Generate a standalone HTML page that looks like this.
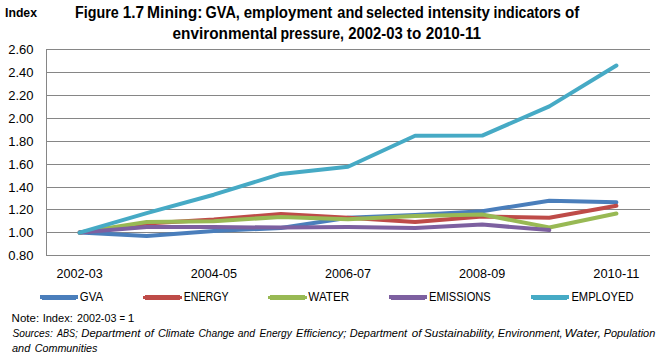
<!DOCTYPE html>
<html><head><meta charset="utf-8"><style>
html,body{margin:0;padding:0;background:#fff;width:666px;height:357px;overflow:hidden}
svg{display:block}
text{font-family:"Liberation Sans",sans-serif;fill:#000}
.ax{font-size:13px}
.idx{font-size:13px;font-weight:bold}
.ttl{font-size:15.6px;font-weight:bold}
.note{font-size:11.5px}
.it{font-style:italic}
</style></head><body>
<svg width="666" height="357" viewBox="0 0 666 357">
<line x1="46.5" y1="255.5" x2="650.0" y2="255.5" stroke="#868686" stroke-width="1"/>
<text x="33.5" y="260.1" class="ax" text-anchor="end">0.80</text>
<line x1="46.5" y1="232.5" x2="650.0" y2="232.5" stroke="#868686" stroke-width="1"/>
<text x="33.5" y="237.1" class="ax" text-anchor="end">1.00</text>
<line x1="46.5" y1="209.5" x2="650.0" y2="209.5" stroke="#868686" stroke-width="1"/>
<text x="33.5" y="214.1" class="ax" text-anchor="end">1.20</text>
<line x1="46.5" y1="187.5" x2="650.0" y2="187.5" stroke="#868686" stroke-width="1"/>
<text x="33.5" y="192.1" class="ax" text-anchor="end">1.40</text>
<line x1="46.5" y1="164.5" x2="650.0" y2="164.5" stroke="#868686" stroke-width="1"/>
<text x="33.5" y="169.1" class="ax" text-anchor="end">1.60</text>
<line x1="46.5" y1="141.5" x2="650.0" y2="141.5" stroke="#868686" stroke-width="1"/>
<text x="33.5" y="146.1" class="ax" text-anchor="end">1.80</text>
<line x1="46.5" y1="118.5" x2="650.0" y2="118.5" stroke="#868686" stroke-width="1"/>
<text x="33.5" y="123.1" class="ax" text-anchor="end">2.00</text>
<line x1="46.5" y1="95.5" x2="650.0" y2="95.5" stroke="#868686" stroke-width="1"/>
<text x="33.5" y="100.1" class="ax" text-anchor="end">2.20</text>
<line x1="46.5" y1="72.5" x2="650.0" y2="72.5" stroke="#868686" stroke-width="1"/>
<text x="33.5" y="77.1" class="ax" text-anchor="end">2.40</text>
<line x1="46.5" y1="49.5" x2="650.0" y2="49.5" stroke="#868686" stroke-width="1"/>
<text x="33.5" y="54.1" class="ax" text-anchor="end">2.60</text>
<line x1="46.5" y1="49.0" x2="46.5" y2="256.0" stroke="#868686" stroke-width="1"/>
<text x="79.6" y="278" class="ax" text-anchor="middle" textLength="46.2" lengthAdjust="spacingAndGlyphs">2002-03</text>
<text x="213.8" y="278" class="ax" text-anchor="middle" textLength="46.2" lengthAdjust="spacingAndGlyphs">2004-05</text>
<text x="348.0" y="278" class="ax" text-anchor="middle" textLength="46.2" lengthAdjust="spacingAndGlyphs">2006-07</text>
<text x="482.2" y="278" class="ax" text-anchor="middle" textLength="46.2" lengthAdjust="spacingAndGlyphs">2008-09</text>
<text x="616.4" y="278" class="ax" text-anchor="middle" textLength="46.2" lengthAdjust="spacingAndGlyphs">2010-11</text>
<polyline points="79.6,232.6 146.7,235.9 213.8,230.9 280.9,228.0 348.0,217.7 415.1,214.9 482.2,211.2 549.3,200.7 616.4,202.2" fill="none" stroke="#4A7EBB" stroke-width="4" stroke-linejoin="round" stroke-linecap="round"/>
<polyline points="79.6,232.6 146.7,223.5 213.8,219.5 280.9,214.0 348.0,217.7 415.1,222.1 482.2,216.4 549.3,217.7 616.4,205.8" fill="none" stroke="#BE4B48" stroke-width="4" stroke-linejoin="round" stroke-linecap="round"/>
<polyline points="79.6,232.6 146.7,222.1 213.8,221.2 280.9,216.9 348.0,219.3 415.1,216.0 482.2,214.5 549.3,227.5 616.4,213.5" fill="none" stroke="#98B954" stroke-width="4" stroke-linejoin="round" stroke-linecap="round"/>
<polyline points="79.6,232.6 146.7,226.9 213.8,227.0 280.9,227.6 348.0,227.1 415.1,228.0 482.2,224.6 549.3,230.1" fill="none" stroke="#7D60A0" stroke-width="4" stroke-linejoin="round" stroke-linecap="round"/>
<polyline points="79.6,232.6 146.7,213.2 213.8,194.7 280.9,173.9 348.0,166.8 415.1,135.8 482.2,135.6 549.3,106.4 616.4,65.5" fill="none" stroke="#46AAC5" stroke-width="4" stroke-linejoin="round" stroke-linecap="round"/>
<rect x="40" y="295" width="38" height="4" fill="#4A7EBB" shape-rendering="crispEdges"/>
<rect x="42" y="299" width="34" height="1" fill="#4A7EBB" shape-rendering="crispEdges"/>
<text x="79.8" y="301" class="ax" textLength="23.200000000000003" lengthAdjust="spacingAndGlyphs">GVA</text>
<rect x="145" y="295" width="35" height="5" fill="#BE4B48" shape-rendering="crispEdges"/>
<rect x="143" y="296" width="39" height="3" fill="#BE4B48" shape-rendering="crispEdges"/>
<text x="183.7" y="301" class="ax" textLength="45.0" lengthAdjust="spacingAndGlyphs">ENERGY</text>
<rect x="270" y="295" width="35" height="5" fill="#98B954" shape-rendering="crispEdges"/>
<rect x="268" y="296" width="39" height="3" fill="#98B954" shape-rendering="crispEdges"/>
<text x="308.3" y="301" class="ax" textLength="40.89999999999998" lengthAdjust="spacingAndGlyphs">WATER</text>
<rect x="389" y="295" width="38" height="4" fill="#7D60A0" shape-rendering="crispEdges"/>
<rect x="391" y="299" width="34" height="1" fill="#7D60A0" shape-rendering="crispEdges"/>
<text x="429" y="301" class="ax" textLength="61.80000000000001" lengthAdjust="spacingAndGlyphs">EMISSIONS</text>
<rect x="531" y="295" width="38" height="4" fill="#46AAC5" shape-rendering="crispEdges"/>
<rect x="533" y="299" width="34" height="1" fill="#46AAC5" shape-rendering="crispEdges"/>
<text x="571.4" y="301" class="ax" textLength="62.10000000000002" lengthAdjust="spacingAndGlyphs">EMPLOYED</text>
<text x="5" y="17" class="idx" textLength="32" lengthAdjust="spacingAndGlyphs">Index</text>
<text x="74.98" y="18" class="ttl" textLength="43.7" lengthAdjust="spacingAndGlyphs">Figure</text>
<text x="122.71" y="18" class="ttl" textLength="21.47" lengthAdjust="spacingAndGlyphs">1.7</text>
<text x="147.1" y="18" class="ttl" textLength="55.33" lengthAdjust="spacingAndGlyphs">Mining:</text>
<text x="205.6" y="18" class="ttl" textLength="34.3" lengthAdjust="spacingAndGlyphs">GVA,</text>
<text x="243.7" y="18" class="ttl" textLength="88.66" lengthAdjust="spacingAndGlyphs">employment</text>
<text x="337.3" y="18" class="ttl" textLength="25.89" lengthAdjust="spacingAndGlyphs">and</text>
<text x="366.08" y="18" class="ttl" textLength="57.61" lengthAdjust="spacingAndGlyphs">selected</text>
<text x="427.73" y="18" class="ttl" textLength="62.19" lengthAdjust="spacingAndGlyphs">intensity</text>
<text x="493.49" y="18" class="ttl" textLength="67.49" lengthAdjust="spacingAndGlyphs">indicators</text>
<text x="565.0" y="18" class="ttl" textLength="14.33" lengthAdjust="spacingAndGlyphs">of</text>
<text x="172.6" y="38.5" class="ttl" textLength="104.78" lengthAdjust="spacingAndGlyphs">environmental</text>
<text x="280.5" y="38.5" class="ttl" textLength="63.4" lengthAdjust="spacingAndGlyphs">pressure,</text>
<text x="348.3" y="38.5" class="ttl" textLength="54.52" lengthAdjust="spacingAndGlyphs">2002-03</text>
<text x="406.8" y="38.5" class="ttl" textLength="14.42" lengthAdjust="spacingAndGlyphs">to</text>
<text x="425.7" y="38.5" class="ttl" textLength="55.47" lengthAdjust="spacingAndGlyphs">2010-11</text>
<text x="11.6" y="322.3" class="note" textLength="27.5" lengthAdjust="spacingAndGlyphs">Note:</text>
<text x="42.64" y="322.3" class="note" textLength="30.18" lengthAdjust="spacingAndGlyphs">Index:</text>
<text x="77.0" y="322.3" class="note" textLength="39.4" lengthAdjust="spacingAndGlyphs">2002-03</text>
<text x="119.4" y="322.3" class="note" textLength="5.57" lengthAdjust="spacingAndGlyphs">=</text>
<text x="127.86" y="322.3" class="note" textLength="6.66" lengthAdjust="spacingAndGlyphs">1</text>
<text x="12.4" y="337" class="note it" textLength="40.35" lengthAdjust="spacingAndGlyphs">Sources:</text>
<text x="56.99" y="337" class="note it" textLength="20.68" lengthAdjust="spacingAndGlyphs">ABS;</text>
<text x="81.3" y="337" class="note it" textLength="59.01" lengthAdjust="spacingAndGlyphs">Department</text>
<text x="144.5" y="337" class="note it" textLength="9.24" lengthAdjust="spacingAndGlyphs">of</text>
<text x="157.9" y="337" class="note it" textLength="36.69" lengthAdjust="spacingAndGlyphs">Climate</text>
<text x="198.4" y="337" class="note it" textLength="35.86" lengthAdjust="spacingAndGlyphs">Change</text>
<text x="237.8" y="337" class="note it" textLength="17.27" lengthAdjust="spacingAndGlyphs">and</text>
<text x="259.6" y="337" class="note it" textLength="32.1" lengthAdjust="spacingAndGlyphs">Energy</text>
<text x="296.0" y="337" class="note it" textLength="50.41" lengthAdjust="spacingAndGlyphs">Efficiency;</text>
<text x="349.8" y="337" class="note it" textLength="57.24" lengthAdjust="spacingAndGlyphs">Department</text>
<text x="411.7" y="337" class="note it" textLength="9.68" lengthAdjust="spacingAndGlyphs">of</text>
<text x="424.0" y="337" class="note it" textLength="71.13" lengthAdjust="spacingAndGlyphs">Sustainability,</text>
<text x="497.8" y="337" class="note it" textLength="64.83" lengthAdjust="spacingAndGlyphs">Environment,</text>
<text x="564.6" y="337" class="note it" textLength="36.44" lengthAdjust="spacingAndGlyphs">Water,</text>
<text x="603.7" y="337" class="note it" textLength="51.54" lengthAdjust="spacingAndGlyphs">Population</text>
<text x="12.0" y="351.6" class="note it" textLength="18.23" lengthAdjust="spacingAndGlyphs">and</text>
<text x="34.7" y="351.6" class="note it" textLength="62.8" lengthAdjust="spacingAndGlyphs">Communities</text>
</svg>
</body></html>
